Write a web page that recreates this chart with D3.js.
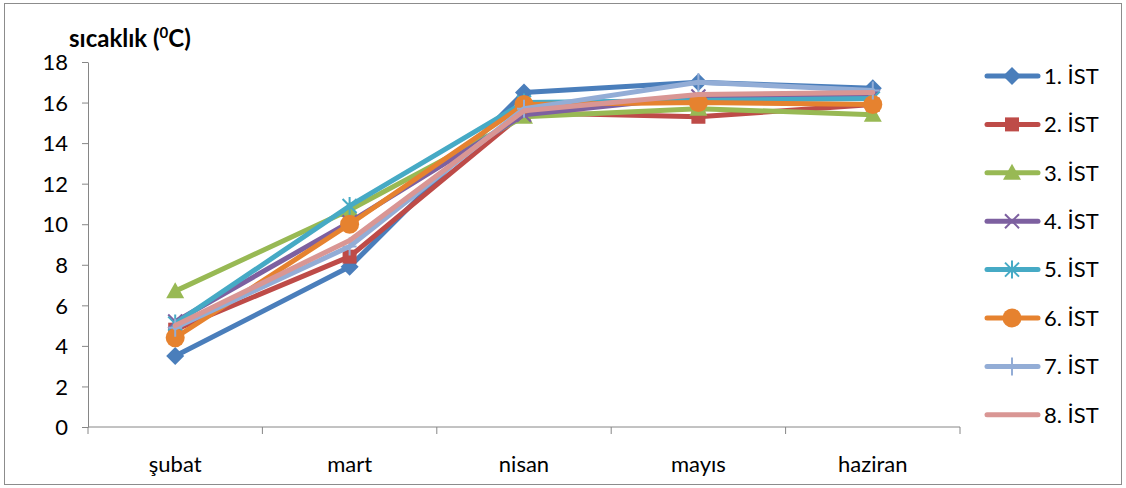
<!DOCTYPE html>
<html>
<head>
<meta charset="utf-8">
<script src="https://cdn.jsdelivr.net/npm/d3@7"></script>
<style>
  html, body { margin: 0; padding: 0; background: #fff; }
  svg { display: block; font-family: Lato, "Open Sans", "Liberation Sans", sans-serif; }
</style>
</head>
<body>
<svg id="chart" width="1126" height="488"></svg>
<script>
// Monthly temperatures for eight stations
const months = ["şubat", "mart", "nisan", "mayıs", "haziran"];
const seriesNames = ["1. İST", "2. İST", "3. İST", "4. İST", "5. İST", "6. İST", "7. İST", "8. İST"];
const ist1 = [3.5, 7.9, 16.5, 17.0, 16.7];
const ist2 = [4.8, 8.4, 15.5, 15.3, 15.9];
const ist3 = [6.7, 10.7, 15.3, 15.7, 15.4];
const ist4 = [5.2, 10.1, 15.4, 16.3, 16.3];
const ist5 = [5.1, 10.9, 16.0, 16.1, 16.2];
const ist6 = [4.4, 10.0, 15.9, 16.0, 15.9];
const ist7 = [4.9, 8.9, 15.7, 17.0, 16.6];
const ist8 = [5.0, 9.2, 15.6, 16.4, 16.5];
const yTicks = [0, 2, 4, 6, 8, 10, 12, 14, 16, 18];

const seriesValues = [ist1, ist2, ist3, ist4, ist5, ist6, ist7, ist8];
const colors = ["#4A7EBB", "#BE4B48", "#98B954", "#7D60A0", "#46AAC5", "#E6822F", "#93ADD6", "#D99694"];
const markers = ["diamond", "square", "triangle", "x", "star", "circle", "plus", "none"];

const fontSize = 22;
const svg = d3.select("#chart");

// outer frame
svg.append("rect")
  .attr("x", 4.5).attr("y", 3.5).attr("width", 1117).attr("height", 481)
  .attr("fill", "#fff").attr("stroke", "#8c8c8c").attr("stroke-width", 1);

const plot = { left: 88, right: 960, top: 62, bottom: 427 };

const x = d3.scaleBand().domain(months).range([plot.left, plot.right]);
const y = d3.scaleLinear().domain([0, 18]).range([plot.bottom, plot.top]);

const axisColor = "#868686";

// y axis
const yAxis = svg.append("g")
  .attr("transform", `translate(${plot.left},0)`)
  .call(d3.axisLeft(y).tickValues(yTicks).tickSize(6).tickPadding(14).tickSizeOuter(0));
yAxis.select(".domain").attr("stroke", axisColor);
yAxis.selectAll(".tick line").attr("stroke", axisColor);
yAxis.selectAll(".tick text")
  .attr("fill", "#000").attr("font-size", fontSize).attr("dy", "0.35em")
  .style("font-family", "Lato, 'Open Sans', sans-serif");

// x axis with ticks on category boundaries
const xAxisG = svg.append("g").attr("transform", `translate(0,${plot.bottom})`);
xAxisG.append("line")
  .attr("x1", plot.left).attr("x2", plot.right)
  .attr("stroke", axisColor);
const boundaries = months.map(m => x(m)).concat([x(months[months.length - 1]) + x.bandwidth()]);
xAxisG.selectAll("line.tk").data(boundaries).join("line")
  .attr("class", "tk")
  .attr("x1", d => d).attr("x2", d => d)
  .attr("y1", 0).attr("y2", 7)
  .attr("stroke", axisColor);
xAxisG.selectAll("text").data(months).join("text")
  .attr("x", d => x(d) + x.bandwidth() / 2)
  .attr("y", 45)
  .attr("text-anchor", "middle")
  .attr("font-size", fontSize)
  .attr("fill", "#000")
  .text(d => d);

// axis title
const title = svg.append("text")
  .attr("x", 69).attr("y", 47)
  .attr("font-size", 24).attr("font-weight", "bold").attr("fill", "#000");
title.append("tspan").text("sıcaklık (");
title.append("tspan").attr("font-size", 15).attr("dy", -9).text("0");
title.append("tspan").attr("dy", 9).text("C)");

const cx = m => x(m) + x.bandwidth() / 2;

function drawMarker(g, type, color, px, py) {
  switch (type) {
    case "diamond":
      g.append("path")
        .attr("d", `M${px},${py - 9}L${px + 9},${py}L${px},${py + 9}L${px - 9},${py}Z`)
        .attr("fill", color);
      break;
    case "square":
      g.append("rect")
        .attr("x", px - 7).attr("y", py - 7).attr("width", 14).attr("height", 14)
        .attr("fill", color);
      break;
    case "triangle":
      g.append("path")
        .attr("d", `M${px},${py - 9}L${px + 9},${py + 7}L${px - 9},${py + 7}Z`)
        .attr("fill", color);
      break;
    case "circle":
      g.append("circle").attr("cx", px).attr("cy", py).attr("r", 9.5).attr("fill", color);
      break;
    case "x":
      g.append("path")
        .attr("d", `M${px - 7},${py - 7}L${px + 7},${py + 7}M${px + 7},${py - 7}L${px - 7},${py + 7}`)
        .attr("stroke", color).attr("stroke-width", 2).attr("fill", "none");
      break;
    case "star":
      g.append("path")
        .attr("d", `M${px - 7},${py - 7}L${px + 7},${py + 7}M${px + 7},${py - 7}L${px - 7},${py + 7}M${px},${py - 9}L${px},${py + 9}`)
        .attr("stroke", color).attr("stroke-width", 2).attr("fill", "none");
      break;
    case "plus":
      g.append("path")
        .attr("d", `M${px - 7},${py}L${px + 7},${py}M${px},${py - 9}L${px},${py + 9}`)
        .attr("stroke", color).attr("stroke-width", 2).attr("fill", "none");
      break;
    default:
      break;
  }
}

const line = d3.line().x((d, i) => cx(months[i])).y(d => y(d));

seriesValues.forEach((vals, si) => {
  const g = svg.append("g").attr("class", "series");
  g.append("path")
    .attr("d", line(vals))
    .attr("fill", "none")
    .attr("stroke", colors[si])
    .attr("stroke-width", 5)
    .attr("stroke-linejoin", "round")
    .attr("stroke-linecap", "round");
  vals.forEach((v, i) => drawMarker(g, markers[si], colors[si], cx(months[i]), y(v)));
});

// legend
const legend = svg.append("g");
seriesNames.forEach((name, i) => {
  const ly = 76 + i * 48.4;
  const lg = legend.append("g");
  lg.append("line")
    .attr("x1", 987).attr("x2", 1038).attr("y1", ly).attr("y2", ly)
    .attr("stroke", colors[i]).attr("stroke-width", 5).attr("stroke-linecap", "round");
  drawMarker(lg, markers[i], colors[i], 1012, ly);
  lg.append("text")
    .attr("x", 1044).attr("y", ly).attr("dy", "0.35em")
    .attr("font-size", fontSize).attr("fill", "#000")
    .text(name);
});
</script>
</body>
</html>
